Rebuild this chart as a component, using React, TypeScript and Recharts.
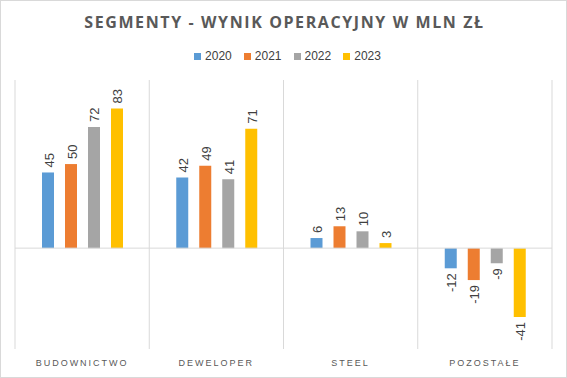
import { BarChart, Bar, XAxis, YAxis, CartesianGrid, ReferenceLine, LabelList } from "recharts";

const categories = ["BUDOWNICTWO", "DEWELOPER", "STEEL", "POZOSTAŁE"];
const years = ["2020", "2021", "2022", "2023"];
const values2020 = [45, 42, 6, -12];
const values2021 = [50, 49, 13, -19];
const values2022 = [72, 41, 10, -9];
const values2023 = [83, 71, 3, -41];
const colors = ["#5B9BD5", "#ED7D31", "#A5A5A5", "#FFC000"];

const seriesValues = [values2020, values2021, values2022, values2023];
const data = categories.map((name, i) => {
  const row: Record<string, string | number> = { name };
  years.forEach((y, s) => {
    row[y] = seriesValues[s][i];
  });
  return row;
});

const BarLabel = (props: any) => {
  const x = Number(props.x);
  const y = Number(props.y);
  const w = Number(props.width);
  const h = Number(props.height);
  const v = Number(props.value);
  const top = Math.min(y, y + h);
  const bottom = Math.max(y, y + h);
  const cx = x + w / 2 + 1;
  const ly = v >= 0 ? top - 5 : bottom + 5;
  return (
    <text
      x={cx}
      y={ly}
      transform={`rotate(-90 ${cx} ${ly})`}
      textAnchor={v >= 0 ? "start" : "end"}
      dominantBaseline="central"
      fill="#404040"
      fontSize={13}
      fontFamily="Liberation Sans, Arial, sans-serif"
    >
      {v}
    </text>
  );
};

const CategoryTick = (props: any) => {
  const { x, y, payload } = props;
  return (
    <text
      x={x}
      y={y + 6}
      textAnchor="middle"
      dominantBaseline="central"
      fill="#595959"
      fontSize={9}
      fontFamily="Liberation Sans, Arial, sans-serif"
      style={{ letterSpacing: 2 }}
    >
      {payload.value}
    </text>
  );
};

export default function App() {
  return (
    <div
      style={{
        position: "fixed",
        left: 0,
        top: 0,
        width: 567,
        height: 378,
        boxSizing: "border-box",
        border: "1px solid #d9d9d9",
        background: "#fff",
        fontFamily: "Liberation Sans, Arial, sans-serif",
      }}
    >
      <div
        style={{
          position: "absolute",
          left: 0,
          top: 13,
          width: 567,
          textAlign: "center",
          fontFamily: "Open Sans, sans-serif",
          fontWeight: 700,
          fontSize: 16,
          lineHeight: "16px",
          letterSpacing: 1.6,
          color: "#595959",
        }}
      >
        SEGMENTY - WYNIK OPERACYJNY W MLN ZŁ
      </div>
      <div
        style={{
          position: "absolute",
          left: 3,
          top: 48,
          width: 567,
          height: 14,
          display: "flex",
          justifyContent: "center",
          alignItems: "center",
          gap: 12,
          fontSize: 12,
          color: "#404040",
        }}
      >
        {years.map((y, i) => (
          <span key={y} style={{ display: "flex", alignItems: "center", gap: 4 }}>
            <span style={{ width: 7, height: 7, background: colors[i], display: "inline-block" }} />
            {y}
          </span>
        ))}
      </div>
      <BarChart
        width={567}
        height={378}
        data={data}
        margin={{ top: 80, right: 15, left: 15, bottom: 9 }}
        barSize={12}
        barGap={11}
        style={{ position: "absolute", left: -1, top: -1 }}
      >
        <CartesianGrid
          horizontal={false}
          stroke="#d9d9d9"
          verticalCoordinatesGenerator={({ offset }: any) =>
            categories.concat([""]).map((_, i) => offset.left + (i * offset.width) / categories.length)
          }
        />
        <XAxis
          dataKey="name"
          axisLine={false}
          tickLine={false}
          height={20}
          tick={<CategoryTick />}
          interval={0}
        />
        <YAxis hide domain={[-60, 100]} />
        <ReferenceLine y={0} stroke="#d9d9d9" />
        {years.map((y, i) => (
          <Bar key={y} dataKey={y} fill={colors[i]} isAnimationActive={false}>
            <LabelList dataKey={y} content={<BarLabel />} />
          </Bar>
        ))}
      </BarChart>
    </div>
  );
}
